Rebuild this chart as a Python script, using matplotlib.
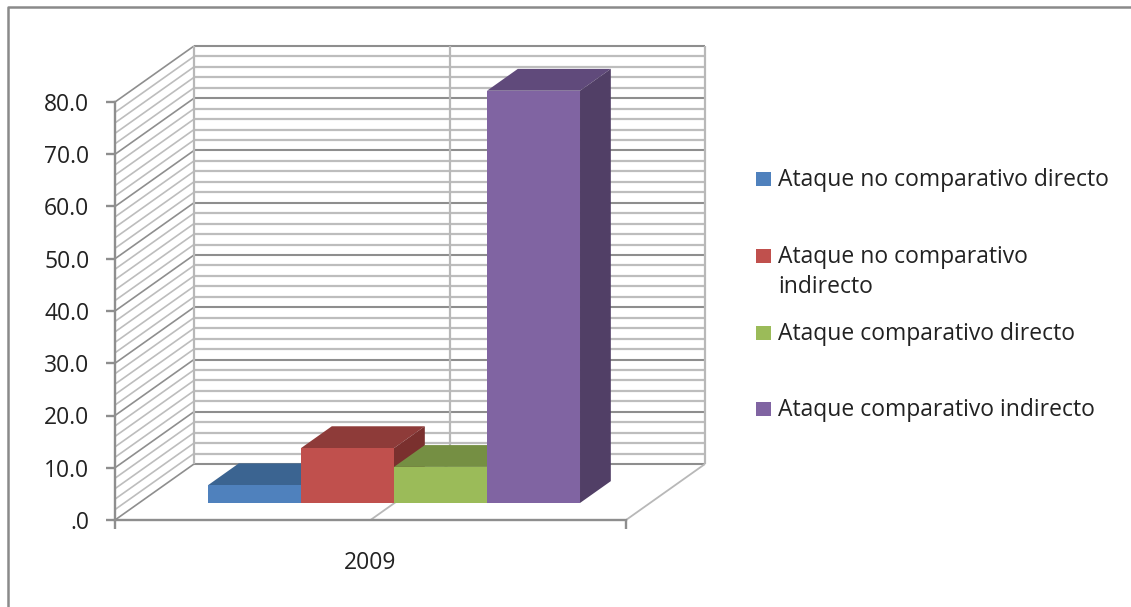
import matplotlib
matplotlib.use("Agg")
import matplotlib.pyplot as plt
from matplotlib.lines import Line2D
from matplotlib.patches import Polygon, Rectangle

plt.rcParams["font.family"] = ["Open Sans", "DejaVu Sans"]

series = ["Ataque no comparativo directo", "Ataque no comparativo\nindirecto",
          "Ataque comparativo directo", "Ataque comparativo indirecto"]
values = [3.4, 10.5, 6.9, 78.9]
year = "2009"
yticks = [0, 10, 20, 30, 40, 50, 60, 70, 80]
ylabels = [".0", "10.0", "20.0", "30.0", "40.0", "50.0", "60.0", "70.0", "80.0"]
minor = [v for v in range(0, 81, 2) if v % 10]

front = ["#4F81BD", "#C0504D", "#9BBB59", "#8064A2"]
top = ["#3B6491", "#8E3B39", "#758F43", "#604A7B"]
side = ["#335578", "#7A302E", "#647A39", "#513F66"]

W, H = 1131, 607
DEPTH_X = 79 / 511
DEPTH_Y = 56 / 418 * 80


def pt(x, v, d=0.0):
    # oblique projection, d=0 is the front of the floor and d=1 the back wall
    return x + d * DEPTH_X, v + d * DEPTH_Y


def seg(ax, a, b, color, lw, z=1):
    ax.plot([a[0], b[0]], [a[1], b[1]], color=color, lw=lw, clip_on=False,
            zorder=z, solid_capstyle="butt")


fig = plt.figure(figsize=(W / 100, H / 100), dpi=100)
ax = fig.add_axes([115 / W, (H - 520) / H, 511 / W, 418 / H])
ax.patch.set_visible(False)
ax.set_xlim(0, 1)
ax.set_ylim(0, 80)

light = "#BDBDBD"
dark = "#8E8E8E"

for v in minor:
    seg(ax, pt(0, v, 0), pt(0, v, 1), light, 1.2)
    seg(ax, pt(0, v, 1), pt(1, v, 1), light, 1.6)
for v in yticks:
    seg(ax, pt(0, v, 0), pt(0, v, 1), dark, 1.2, 2)
    seg(ax, pt(0, v, 1), pt(1, v, 1), dark, 1.5, 2)

for x in [0, 0.5, 1]:
    seg(ax, pt(x, 0, 1), pt(x, 80, 1), "#B8B8B8", 1.6, 2)
for x in [0.5, 1]:
    seg(ax, pt(x, 0, 0), pt(x, 0, 1), "#B8B8B8", 1.3, 2)

# bars stand on the floor, a third of the way back
bar_w = 0.182
bar_x = [0.135 + i * bar_w for i in range(len(values))]
d0, d1 = 0.304, 0.694
for i, (x, v) in enumerate(zip(bar_x, values)):
    x2 = x + bar_w
    ax.add_patch(Polygon([pt(x, v, d0), pt(x2, v, d0), pt(x2, v, d1), pt(x, v, d1)],
                         fc=top[i], ec="none", clip_on=False, zorder=3))
    ax.add_patch(Polygon([pt(x2, 0, d0), pt(x2, v, d0), pt(x2, v, d1), pt(x2, 0, d1)],
                         fc=side[i], ec="none", clip_on=False, zorder=3))
    ax.add_patch(Polygon([pt(x, 0, d0), pt(x2, 0, d0), pt(x2, v, d0), pt(x, v, d0)],
                         fc=front[i], ec="none", clip_on=False, zorder=3))

for s in ["top", "right"]:
    ax.spines[s].set_visible(False)
for s in ["left", "bottom"]:
    ax.spines[s].set_color(dark)
    ax.spines[s].set_linewidth(1.7)

ax.set_yticks(yticks, ylabels)
ax.set_xticks([0, 1], ["", ""])
ax.set_xticks([0.5], [year], minor=True)
ax.tick_params(axis="both", which="major", length=6.5, width=1.7, color=dark,
               labelsize=16.5, labelcolor="#222222")
ax.tick_params(axis="y", pad=12)
ax.tick_params(axis="x", which="minor", length=0, pad=22, labelsize=16.5, labelcolor="#222222")

# frame, only left and top are inside the picture
fig.add_artist(Line2D([8 / W, 8 / W, 1], [0, 1 - 7 / H, 1 - 7 / H], color="#8A8A8A", lw=1.8))

swatch_y = [179, 256, 333, 409]
for label, color, y in zip(series, front, swatch_y):
    fig.add_artist(Rectangle((756 / W, 1 - (y + 7) / H), 15 / W, 14 / H, fc=color, ec="none",
                             transform=fig.transFigure))
    fig.text(778 / W, 1 - (y - 11) / H, label, fontsize=16.5, color="#222222", va="top",
             linespacing=1.35)

fig.savefig("out.png", dpi=100)
